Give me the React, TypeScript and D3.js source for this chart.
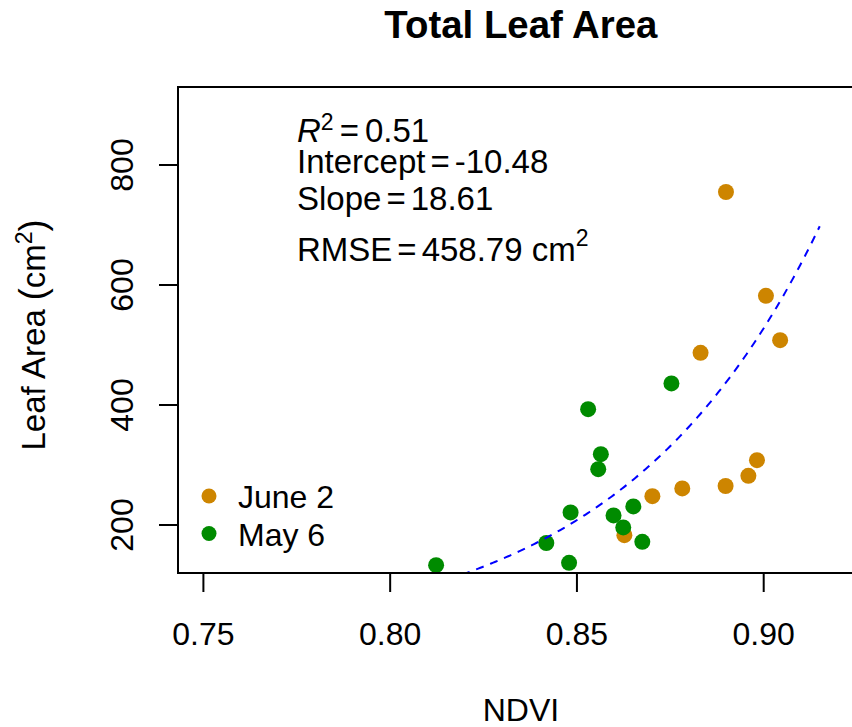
import React from "react";
import * as d3 from "d3";

// June 2 sampling
const juneNdvi = [0.8899, 0.9006, 0.9044, 0.8831, 0.8982, 0.8959, 0.8898, 0.8782, 0.8702, 0.8627];
const juneArea = [755, 582, 508, 487, 308, 282, 265, 261, 248, 183];

// May 6 sampling
const mayNdvi = [0.8123, 0.8479, 0.8418, 0.8483, 0.853, 0.8564, 0.8557, 0.8598, 0.8624, 0.8651, 0.8675, 0.8753];
const mayArea = [133, 137, 170, 221, 393, 318, 293, 216, 196, 231, 172, 436];

// Fitted exponential model: log(area) = intercept + slope * NDVI
const fitIntercept = -10.48;
const fitSlope = 18.61;
const fitRange = [0.8, 0.915];

const xTicks = [0.75, 0.8, 0.85, 0.9];
const yTicks = [200, 400, 600, 800];
const xLim = [0.75, 0.92];
const yLim = [150, 900];

const legendLabels = ["June 2", "May 6"];
const ORANGE = "#CD8500";
const GREEN = "#008B00";

const W = 852;
const H = 727;
const plot = { left: 178, top: 87, bottom: 573 };
const FONT = "'Liberation Sans', Arial, sans-serif";

// R-style 4% axis extension
const ext = (lim: number[]) => {
  const d = (lim[1] - lim[0]) * 0.04;
  return [lim[0] - d, lim[1] + d];
};

export default function App() {
  const xd = ext(xLim);
  const yd = ext(yLim);
  const pxPerUnit = (763.3 - 203) / 0.15;
  const plotRight = plot.left + (xd[1] - xd[0]) * pxPerUnit;
  const x = d3.scaleLinear().domain(xd).range([plot.left, plotRight]);
  const y = d3.scaleLinear().domain(yd).range([plot.bottom, plot.top]);

  const curveX = d3.range(0, 201).map((i) => fitRange[0] + ((fitRange[1] - fitRange[0]) * i) / 200);
  const line = d3
    .line<number>()
    .x((v) => x(v))
    .y((v) => y(Math.exp(fitIntercept + fitSlope * v)));

  const cx = (plot.left + plotRight) / 2;
  const cy = (plot.top + plot.bottom) / 2;
  const tickLen = 19;

  return (
    <svg
      width={W}
      height={H}
      style={{ position: "absolute", left: 0, top: 0, background: "#fff" }}
      fontFamily={FONT}
    >
      <defs>
        <clipPath id="plotArea">
          <rect x={plot.left} y={plot.top} width={plotRight - plot.left} height={plot.bottom - plot.top} />
        </clipPath>
      </defs>
      <rect width={W} height={H} fill="#fff" />

      <text x={cx} y={38} textAnchor="middle" fontSize={38.4} fontWeight="bold">
        Total Leaf Area
      </text>

      <g clipPath="url(#plotArea)">
        {juneNdvi.map((v, i) => (
          <circle key={"j" + i} cx={x(v)} cy={y(juneArea[i])} r={8} fill={ORANGE} />
        ))}
        {mayNdvi.map((v, i) => (
          <circle key={"m" + i} cx={x(v)} cy={y(mayArea[i])} r={8} fill={GREEN} />
        ))}
        <path d={line(curveX) || ""} fill="none" stroke="#0000FF" strokeWidth={2} strokeDasharray="8,7" />
      </g>

      <rect
        x={plot.left}
        y={plot.top}
        width={plotRight - plot.left}
        height={plot.bottom - plot.top}
        fill="none"
        stroke="#000"
        strokeWidth={2}
      />

      {xTicks.map((t) => (
        <g key={"xt" + t}>
          <line x1={x(t)} x2={x(t)} y1={plot.bottom} y2={plot.bottom + tickLen} stroke="#000" strokeWidth={2} />
          <text x={x(t)} y={645} textAnchor="middle" fontSize={32}>
            {d3.format(".2f")(t)}
          </text>
        </g>
      ))}
      {yTicks.map((t) => (
        <g key={"yt" + t}>
          <line x1={plot.left - tickLen} x2={plot.left} y1={y(t)} y2={y(t)} stroke="#000" strokeWidth={2} />
          <text transform={`translate(133,${y(t)}) rotate(-90)`} textAnchor="middle" fontSize={32}>
            {t}
          </text>
        </g>
      ))}

      <text x={cx} y={721} textAnchor="middle" fontSize={32}>
        NDVI
      </text>
      <text transform={`translate(45,${cy + 5}) rotate(-90)`} textAnchor="middle" fontSize={33}>
        <tspan>Leaf Area</tspan>
        <tspan dx={9} fontSize={36}>(</tspan>
        <tspan>cm</tspan>
        <tspan dy={-13} fontSize={23}>2</tspan>
        <tspan dy={13} fontSize={36}>)</tspan>
      </text>

      <g fontSize={33}>
        <text x={297} y={142}>
          <tspan fontStyle="italic">R</tspan>
          <tspan dy={-12} fontSize={23}>2</tspan>
          <tspan dy={12} dx={6}>=</tspan>
          <tspan dx={6}>0.51</tspan>
        </text>
        <text x={297} y={173}>
          <tspan>Intercept</tspan>
          <tspan dx={5}>=</tspan>
          <tspan dx={5}>-10.48</tspan>
        </text>
        <text x={297} y={210}>
          <tspan>Slope</tspan>
          <tspan dx={5}>=</tspan>
          <tspan dx={5}>18.61</tspan>
        </text>
        <text x={297} y={261}>
          <tspan>RMSE</tspan>
          <tspan dx={5}>=</tspan>
          <tspan dx={5}>458.79 cm</tspan>
          <tspan dy={-15} fontSize={23}>2</tspan>
        </text>
      </g>

      {legendLabels.map((lab, i) => (
        <g key={lab}>
          <circle cx={209} cy={496 + i * 37.5} r={7.5} fill={i === 0 ? ORANGE : GREEN} />
          <text x={238} y={508 + i * 37.5} fontSize={32}>
            {lab}
          </text>
        </g>
      ))}
    </svg>
  );
}
